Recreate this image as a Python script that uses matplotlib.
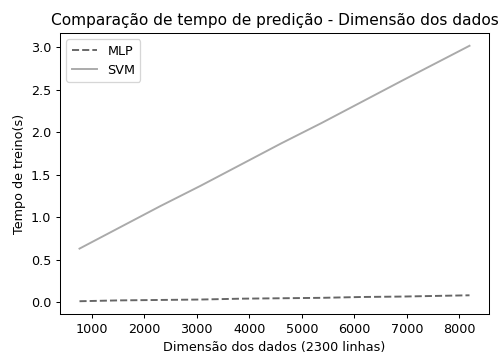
import matplotlib
matplotlib.use("Agg")
import matplotlib.pyplot as plt

# dimensão dos dados (colunas) e tempos medidos
dimensoes = [768, 1536, 2304, 3072, 3840, 4608, 5376, 6144, 6912, 8192]
tempo_mlp = [0.01, 0.02, 0.025, 0.03, 0.04, 0.045, 0.05, 0.06, 0.065, 0.08]
tempo_svm = [0.63, 0.88, 1.13, 1.37, 1.62, 1.87, 2.11, 2.36, 2.61, 3.02]

dpi = 92
fig = plt.figure(figsize=(499 / dpi, 353 / dpi), dpi=dpi)
ax = fig.add_axes([60 / 499, 1 - 314 / 353, 429 / 499, 281 / 353])

ax.plot(dimensoes, tempo_mlp, linestyle="--", color="#666666", label="MLP")
ax.plot(dimensoes, tempo_svm, linestyle="-", color="#aaaaaa", label="SVM")

ax.set_title("Comparação de tempo de predição - Dimensão dos dados")
ax.set_xlabel("Dimensão dos dados (2300 linhas)")
ax.set_ylabel("Tempo de treino(s)")
ax.legend(loc="upper left")

fig.savefig("out.png", dpi=dpi)
